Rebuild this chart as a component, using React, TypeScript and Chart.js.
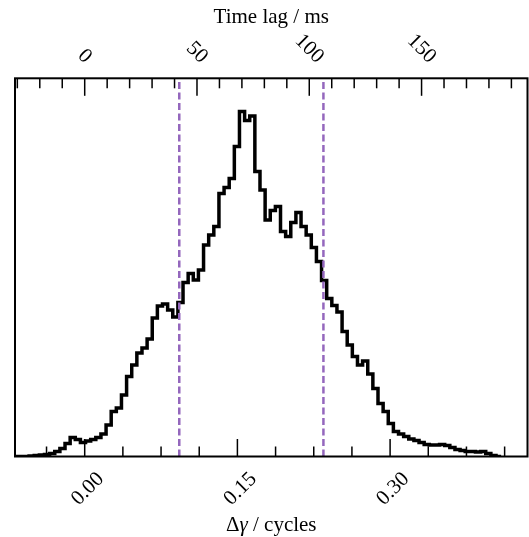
import React, { useEffect, useRef } from "react";
import { Chart, registerables } from "chart.js";

Chart.register(...registerables);

// ---- data ----
// histogram of phase lag Δγ (cycles); uniform bins
const binStart = -0.06973;
const binWidth = 0.00504;
const counts = [
  0, 0, 0,
  0.5, 1, 1.5, 2, 3,
  5, 8, 13, 19, 17,
  14, 15.5, 17, 19, 22.5,
  31.5, 45, 48.5, 61.5, 80,
  91.5, 103.5, 108.5, 117.5, 138.5,
  150.5, 152.5, 146.5, 139.5, 154,
  174, 183, 176.5, 186.5, 211.5,
  221.5, 230, 263, 269, 278,
  310, 345, 336, 340.5, 285,
  266.5, 236.5, 246, 250, 225,
  220, 234, 244, 230, 221.5,
  209, 195, 176, 158, 151,
  144.5, 125, 111.5, 100, 91.5,
  95.5, 82.5, 68, 53, 45,
  33, 25, 22.5, 20, 17.5,
  16, 14, 12, 11.5, 11.5,
  12, 11, 9, 7, 6,
  5, 5, 4.5, 5, 3,
  1, 0,
];
const markerLines = [0.0929, 0.2345]; // Δγ positions of dashed lines
const bottomMajorTicks = [0.0, 0.15, 0.3];
const bottomTickLabels = ["0.00", "0.15", "0.30"];
const bottomMinorStep = 0.0375;
const topMajorTicks = [0, 50, 100, 150];
const topTickLabels = ["0", "50", "100", "150"];
const topMinorStep = 10;
const periodMs = 453.3; // Δγ (cycles) → time lag (ms)
const xMin = -0.06847;
const xMax = 0.43497;
const yMax = 378.2;
const xTitle = ["Δ", "γ", " / cycles"];
const topTitle = "Time lag / ms";

const SERIF = "'Liberation Serif', 'DejaVu Serif', serif";

export default function App() {
  const ref = useRef<HTMLCanvasElement | null>(null);

  useEffect(() => {
    const canvas = ref.current;
    if (!canvas) return;

    const histPoints = counts.map((c, i) => ({ x: binStart + i * binWidth, y: c }));
    histPoints.push({ x: binStart + counts.length * binWidth, y: 0 });

    const decor = {
      id: "decor",
      afterDraw(chart: any) {
        const ctx = chart.ctx as CanvasRenderingContext2D;
        const area = chart.chartArea;
        const sx = chart.scales.x;
        const st = chart.scales.xTop;
        ctx.save();
        // frame
        ctx.strokeStyle = "#000";
        ctx.lineWidth = 2;
        ctx.strokeRect(area.left, area.top, area.right - area.left, area.bottom - area.top);

        // ticks
        ctx.lineWidth = 1.5;
        const tick = (px: number, y0: number, len: number) => {
          ctx.beginPath();
          ctx.moveTo(px, y0);
          ctx.lineTo(px, y0 + len);
          ctx.stroke();
        };
        const isMajor = (v: number, majors: number[], eps: number) =>
          majors.some((m) => Math.abs(m - v) < eps);
        // bottom
        for (let v = Math.ceil(xMin / bottomMinorStep) * bottomMinorStep; v <= xMax; v += bottomMinorStep) {
          if (isMajor(v, bottomMajorTicks, 1e-6)) continue;
          tick(sx.getPixelForValue(v), area.bottom, -10);
        }
        bottomMajorTicks.forEach((v) => tick(sx.getPixelForValue(v), area.bottom, -17.5));
        // top
        const tMin = st.min, tMax = st.max;
        for (let v = Math.ceil(tMin / topMinorStep) * topMinorStep; v <= tMax; v += topMinorStep) {
          if (isMajor(v, topMajorTicks, 1e-6)) continue;
          const px = st.getPixelForValue(v);
          if (px <= area.left + 1 || px >= area.right - 1) continue;
          tick(px, area.top, 10);
        }
        topMajorTicks.forEach((v) => tick(st.getPixelForValue(v), area.top, 17.5));

        // tick labels
        ctx.fillStyle = "#000";
        ctx.font = `21px ${SERIF}`;
        const rotLabel = (text: string, cx: number, edgeY: number, angle: number, below: boolean) => {
          const m = ctx.measureText(text);
          const asc = m.actualBoundingBoxAscent;
          const desc = m.actualBoundingBoxDescent;
          const ext = (m.width + asc + desc) / Math.SQRT2;
          const cy = below ? edgeY + ext / 2 : edgeY - ext / 2;
          ctx.save();
          ctx.translate(cx, cy);
          ctx.rotate(angle);
          ctx.textAlign = "center";
          ctx.textBaseline = "alphabetic";
          ctx.fillText(text, 0, (asc - desc) / 2);
          ctx.restore();
        };
        bottomMajorTicks.forEach((v, i) =>
          rotLabel(bottomTickLabels[i], sx.getPixelForValue(v) + 2, area.bottom + 13.5, -Math.PI / 4, true)
        );
        topMajorTicks.forEach((v, i) =>
          rotLabel(topTickLabels[i], st.getPixelForValue(v) + 1, area.top - 14.5, Math.PI / 4, false)
        );

        // axis titles
        const cxMid = (area.left + area.right) / 2;
        ctx.font = `21px ${SERIF}`;
        ctx.textAlign = "center";
        ctx.textBaseline = "alphabetic";
        ctx.fillText(topTitle, cxMid, 23);

        const fonts = [`21px ${SERIF}`, `italic 21px ${SERIF}`, `21px ${SERIF}`];
        let total = 0;
        const widths = xTitle.map((s, i) => {
          ctx.font = fonts[i];
          const w = ctx.measureText(s).width;
          total += w;
          return w;
        });
        let x = cxMid - total / 2;
        ctx.textAlign = "left";
        xTitle.forEach((s, i) => {
          ctx.font = fonts[i];
          ctx.fillText(s, x, 531);
          x += widths[i];
        });
        ctx.restore();
      },
    };

    const chart = new Chart(canvas, {
      type: "line",
      data: {
        datasets: [
          ...markerLines.map((v) => ({
            data: [
              { x: v, y: 0 },
              { x: v, y: yMax },
            ],
            borderColor: "#9467bd",
            borderWidth: 2.5,
            borderDash: [7, 3.5],
            pointRadius: 0,
            fill: false,
            order: 0,
          })),
          {
            data: histPoints,
            borderColor: "#000",
            borderWidth: 3.5,
            stepped: true,
            pointRadius: 0,
            fill: false,
            order: 1,
            borderJoinStyle: "miter" as const,
          },
        ],
      },
      options: {
        responsive: false,
        maintainAspectRatio: false,
        devicePixelRatio: 1,
        animation: false,
        layout: { padding: { left: 15, right: 1.5, top: 78.3, bottom: 80.5 } },
        plugins: { legend: { display: false }, tooltip: { enabled: false } },
        scales: {
          x: { type: "linear", display: false, min: xMin, max: xMax },
          xTop: {
            type: "linear",
            axis: "x",
            position: "top",
            display: false,
            min: xMin * periodMs,
            max: xMax * periodMs,
          },
          y: { type: "linear", display: false, min: 0, max: yMax },
        },
      },
      plugins: [decor],
    } as any);

    return () => chart.destroy();
  }, []);

  return (
    <div style={{ position: "absolute", left: 0, top: 0, width: 529, height: 537, background: "#fff" }}>
      <canvas ref={ref} width={529} height={537} style={{ display: "block" }} />
    </div>
  );
}
